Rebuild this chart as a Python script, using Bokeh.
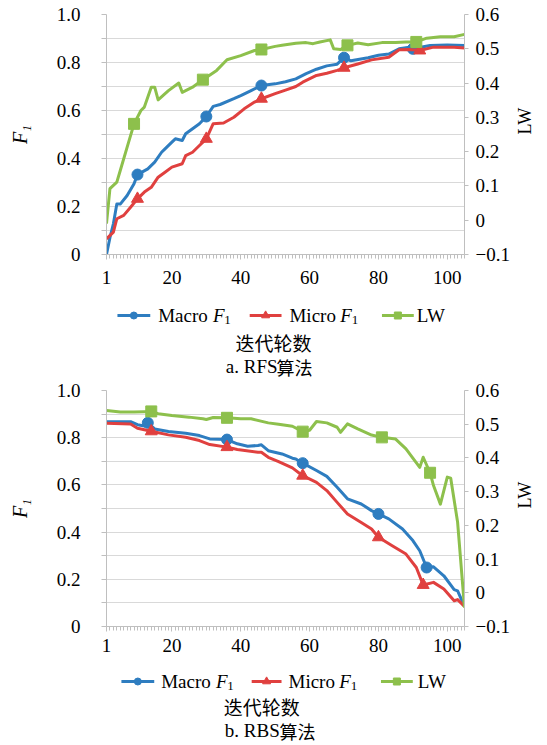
import math
from bokeh.plotting import figure
from bokeh.models import Range1d, LinearAxis, FixedTicker
from bokeh.layouts import column
from bokeh.embed import file_html
from bokeh.resources import INLINE
from bokeh.core.properties import value

# ---------------- data ----------------
X_TICKS = [1, 20, 40, 60, 80, 100]
X_MINOR = list(range(1, 106))
F1_TICKS = [0, 0.2, 0.4, 0.6, 0.8, 1.0]
F1_MINOR = [0.1, 0.3, 0.5, 0.7, 0.9]
F1_GRID = [0, 0.1, 0.2, 0.3, 0.4, 0.5, 0.6, 0.7, 0.8, 0.9, 1.0]
F1_LABELS = {0: "0", 0.2: "0.2", 0.4: "0.4", 0.6: "0.6", 0.8: "0.8", 1.0: "1.0"}
LW_TICKS = [-0.1, 0, 0.1, 0.2, 0.3, 0.4, 0.5, 0.6]
LW_LABELS = {-0.1: "\u22120.1", 0: "0", 0.1: "0.1", 0.2: "0.2", 0.3: "0.3",
             0.4: "0.4", 0.5: "0.5", 0.6: "0.6"}

SERIES_NAMES = ["Macro", "Micro", "LW"]
LEFT_TITLE = "F\u2081"
RIGHT_TITLE = "LW"
X_TITLE = "迭代轮数"
CAPTION_LATIN = ["a. RFS", "b. RBS"]
CAPTION_CJK = ["算法", "算法"]

# RFS (top)
rfs_macro_x = [1, 2, 3, 4, 5, 7, 9, 10, 13, 15, 17, 18, 20, 21, 23, 24, 26, 28, 30, 32, 34, 38,
               40, 43, 46, 50, 53, 56, 59, 62, 65, 68, 70, 72, 77, 80, 83, 86, 89, 90, 95, 100, 105]
rfs_macro_y = [0.0, 0.07, 0.128, 0.21, 0.21, 0.246, 0.295, 0.333, 0.357, 0.385, 0.426, 0.44,
               0.468, 0.482, 0.475, 0.503, 0.524, 0.545, 0.575, 0.617, 0.625, 0.649, 0.662,
               0.683, 0.704, 0.711, 0.72, 0.732, 0.754, 0.772, 0.786, 0.793, 0.82, 0.807, 0.82,
               0.83, 0.835, 0.857, 0.864, 0.857, 0.871, 0.873, 0.871]
rfs_macro_marks = [10, 30, 46, 70, 90]

rfs_micro_x = [1, 3, 4, 6, 8, 10, 12, 14, 16, 18, 20, 23, 24, 26, 28, 30, 32, 35, 38, 41, 44,
               46, 50, 53, 56, 58, 62, 65, 68, 70, 74, 78, 83, 86, 89, 92, 96, 102, 105]
rfs_micro_y = [0.065, 0.093, 0.149, 0.163, 0.197, 0.232, 0.26, 0.28, 0.322, 0.343, 0.364, 0.378,
               0.412, 0.426, 0.454, 0.482, 0.545, 0.548, 0.572, 0.607, 0.635, 0.649, 0.67,
               0.685, 0.70, 0.718, 0.746, 0.755, 0.767, 0.778, 0.794, 0.811, 0.822, 0.853,
               0.854, 0.85, 0.864, 0.864, 0.86]
rfs_micro_marks = [10, 30, 46, 70, 92]

rfs_lw_x = [1, 2, 4, 5, 7, 9, 11, 12, 14, 15, 16, 19, 22, 23, 26, 29, 33, 36, 40, 44, 46, 50,
            52, 56, 59, 61, 63, 66, 67, 69, 71, 74, 77, 81, 85, 88, 91, 94, 98, 102, 105]
rfs_lw_y = [-0.01, 0.092, 0.111, 0.145, 0.213, 0.281, 0.32, 0.33, 0.388, 0.388, 0.351, 0.378,
            0.40, 0.373, 0.388, 0.41, 0.437, 0.468, 0.48, 0.495, 0.498, 0.507, 0.51, 0.516,
            0.518, 0.515, 0.52, 0.526, 0.50, 0.498, 0.51, 0.517, 0.512, 0.518, 0.518, 0.52,
            0.52, 0.531, 0.535, 0.535, 0.542]
rfs_lw_marks = [9, 29, 46, 71, 91]

# RBS (bottom)
rbs_macro_x = [1, 8, 10, 12, 13, 15, 19, 24, 28, 31, 36, 39, 42, 45, 46, 48, 52, 55, 56, 58, 62,
               65, 68, 71, 75, 78, 80, 83, 87, 90, 92, 94, 96, 99, 102, 103, 105]
rbs_macro_y = [0.868, 0.868, 0.855, 0.85, 0.863, 0.837, 0.826, 0.819, 0.809, 0.795, 0.792,
               0.774, 0.764, 0.767, 0.77, 0.745, 0.731, 0.713, 0.71, 0.692, 0.661, 0.636,
               0.59, 0.541, 0.519, 0.491, 0.477, 0.456, 0.413, 0.364, 0.321, 0.25, 0.253,
               0.215, 0.156, 0.151, 0.085]
rbs_macro_marks = [13, 36, 58, 80, 94]

rbs_micro_x = [1, 8, 10, 12, 14, 19, 24, 28, 31, 36, 39, 45, 46, 48, 51, 55, 58, 62, 65, 68, 71,
               75, 78, 80, 84, 88, 91, 93, 96, 99, 102, 103, 105]
rbs_micro_y = [0.861, 0.858, 0.84, 0.834, 0.827, 0.812, 0.802, 0.788, 0.771, 0.76, 0.75, 0.738,
               0.738, 0.717, 0.699, 0.672, 0.639, 0.611, 0.576, 0.526, 0.477, 0.441, 0.413,
               0.378, 0.342, 0.307, 0.25, 0.176, 0.187, 0.159, 0.109, 0.114, 0.085]
rbs_micro_marks = [14, 36, 58, 80, 93]

rbs_lw_x = [1, 5, 9, 12, 14, 16, 20, 25, 29, 30, 32, 36, 40, 43, 48, 51, 55, 58, 60, 62, 65, 68,
            69, 71, 74, 78, 81, 85, 88, 92, 93, 95, 96, 98, 100, 101, 103, 105]
rbs_lw_y = [0.541, 0.536, 0.536, 0.537, 0.538, 0.531, 0.526, 0.521, 0.516, 0.514, 0.52, 0.519,
            0.516, 0.516, 0.504, 0.50, 0.494, 0.478, 0.482, 0.508, 0.504, 0.491, 0.476, 0.501,
            0.486, 0.468, 0.461, 0.456, 0.427, 0.372, 0.402, 0.356, 0.318, 0.263, 0.343, 0.34,
            0.209, -0.044]
rbs_lw_marks = [14, 36, 58, 81, 95]

# ---------------- style / layout ----------------
BLUE = "#2E7DC0"
RED = "#E0403F"
GREEN = "#8DC04C"
AXIS_C = "#BFBFBF"
GRID_C = "#D9D9D9"
SERIF = "Liberation Serif"
CJK = "Noto Sans CJK SC"
W = 547
BL = 106   # shared left border (frames are aligned by the column)
BR = 81    # shared right border


def pick(xs, ys, marks):
    return marks, [ys[xs.index(m)] for m in marks]


def make_main(H, bt, bb, xstand, series):
    p = figure(width=W, height=H, x_range=Range1d(1, 105), y_range=Range1d(0, 1),
               output_backend="svg", toolbar_location=None,
               min_border_left=BL, min_border_right=BR, min_border_top=bt, min_border_bottom=bb)
    p.extra_y_ranges = {"lw": Range1d(-0.1, 0.6)}
    p.outline_line_color = None
    p.xgrid.visible = False
    p.ygrid.ticker = FixedTicker(ticks=F1_GRID)
    p.ygrid.grid_line_color = GRID_C
    p.ygrid.grid_line_width = 1

    xa = p.xaxis[0]
    xa.ticker = FixedTicker(ticks=X_TICKS, minor_ticks=X_MINOR)
    xa.major_tick_out = 5
    xa.minor_tick_out = 4
    xa.major_label_standoff = xstand

    ya = p.yaxis[0]
    ya.ticker = FixedTicker(ticks=F1_TICKS, minor_ticks=F1_MINOR)
    ya.major_label_overrides = F1_LABELS
    ya.major_tick_out = 5
    ya.minor_tick_out = 5
    ya.major_label_standoff = 21
    ya.axis_label = LEFT_TITLE
    ya.axis_label_text_font = SERIF
    ya.axis_label_text_font_size = "20px"
    ya.axis_label_text_font_style = "italic"
    ya.axis_label_text_color = "black"
    ya.axis_label_standoff = 23

    ra = LinearAxis(y_range_name="lw", ticker=FixedTicker(ticks=LW_TICKS, minor_ticks=[]))
    ra.major_label_overrides = LW_LABELS
    ra.major_tick_out = 4
    ra.major_label_standoff = 7
    ra.axis_label = RIGHT_TITLE
    ra.axis_label_text_font = SERIF
    ra.axis_label_text_font_size = "18px"
    ra.axis_label_text_font_style = "normal"
    ra.axis_label_text_color = "black"
    ra.axis_label_standoff = 12
    try:
        ra.axis_label_orientation = math.pi / 2   # read bottom-to-top
    except Exception:
        pass
    p.add_layout(ra, "right")

    for ax in (xa, ya, ra):
        ax.axis_line_color = AXIS_C
        ax.major_tick_line_color = AXIS_C
        ax.minor_tick_line_color = AXIS_C
        ax.major_tick_in = 0
        ax.minor_tick_in = 0
        ax.major_label_text_font = SERIF
        ax.major_label_text_font_size = "19px"
        ax.major_label_text_color = "black"

    (mx, my, mm), (rx, ry, rm), (gx, gy, gm) = series
    p.line(mx, my, line_color=BLUE, line_width=3, line_join="round")
    a, b = pick(mx, my, mm)
    p.scatter(a, b, marker="circle", size=11, color=BLUE)
    p.line(rx, ry, line_color=RED, line_width=3, line_join="round")
    a, b = pick(rx, ry, rm)
    p.scatter(a, b, marker="triangle", size=12, color=RED)
    p.line(gx, gy, line_color=GREEN, line_width=3, line_join="round", y_range_name="lw")
    a, b = pick(gx, gy, gm)
    p.scatter(a, b, marker="square", size=11, color=GREEN, y_range_name="lw")
    return p


def make_legend(H, row_y, xt_y, cap_y, pos, xt_x, cap_x, cjk_x, idx):
    # frame spans page pixels BL .. W-BR, so x data == page x pixels
    q = figure(width=W, height=H, x_range=Range1d(BL, W - BR), y_range=Range1d(H, 0),
               output_backend="svg", toolbar_location=None,
               min_border_left=BL, min_border_right=BR, min_border_top=0, min_border_bottom=0,
               x_axis_type=None, y_axis_type=None)
    q.grid.visible = False
    q.outline_line_color = None
    colors = [BLUE, RED, GREEN]
    markers = ["circle", "triangle", "square"]
    msize = [7, 8, 7]
    name_w = [55, 51]
    for i, (l0, l1, tx) in enumerate(pos):
        q.line([l0, l1], [row_y, row_y], line_color=colors[i], line_width=3)
        q.scatter([(l0 + l1) / 2], [row_y], marker=markers[i], size=msize[i], color=colors[i])
        q.text([tx], [row_y], text=[SERIES_NAMES[i]], text_font=value(SERIF),
               text_font_size=value("19px"), text_baseline="middle", text_align="left",
               text_color="black")
        if i < 2:
            fx = tx + name_w[i]
            q.text([fx], [row_y], text=["F"], text_font=value(SERIF),
                   text_font_size=value("19px"), text_font_style="italic",
                   text_baseline="middle", text_align="left", text_color="black")
            q.text([fx + 11.5], [row_y + 4], text=["1"], text_font=value(SERIF),
                   text_font_size=value("13px"), text_baseline="middle", text_align="left",
                   text_color="black")
    q.text([xt_x], [xt_y], text=[X_TITLE], text_font=value(CJK),
           text_font_size=value("19px"), text_baseline="middle", text_align="center",
           text_color="black")
    q.text([cap_x], [cap_y], text=[CAPTION_LATIN[idx]], text_font=value(SERIF),
           text_font_size=value("19px"), text_baseline="middle", text_align="left",
           text_color="black")
    q.text([cjk_x], [cap_y], text=[CAPTION_CJK[idx]], text_font=value(CJK),
           text_font_size=value("18px"), text_baseline="middle", text_align="left",
           text_color="black")
    return q


top = make_main(292, 14, 38, 11,
                [(rfs_macro_x, rfs_macro_y, rfs_macro_marks),
                 (rfs_micro_x, rfs_micro_y, rfs_micro_marks),
                 (rfs_lw_x, rfs_lw_y, rfs_lw_marks)])
top_leg = make_legend(88, 23, 50, 74,
                      [(117, 150, 158), (250, 282, 290), (383, 415, 418)],
                      274, 226, 277, 0)
bot = make_main(280, 10, 34, 7,
                [(rbs_macro_x, rbs_macro_y, rbs_macro_marks),
                 (rbs_micro_x, rbs_micro_y, rbs_micro_marks),
                 (rbs_lw_x, rbs_lw_y, rbs_lw_marks)])
bot_leg = make_legend(85, 21, 46, 70,
                      [(121, 154, 161), (252, 282, 289), (382, 414, 419)],
                      262, 225, 280, 1)

layout = column(top, top_leg, bot, bot_leg, spacing=0)
open("out.html", "w").write(file_html(layout, INLINE))
